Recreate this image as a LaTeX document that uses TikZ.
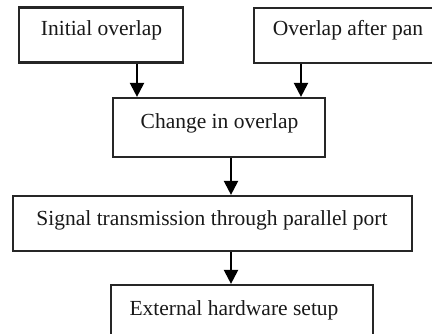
\documentclass[tikz,border=0pt]{standalone}
\usepackage{fontspec}
\setmainfont{Liberation Serif}
\usetikzlibrary{arrows.meta}
\begin{document}
\begin{tikzpicture}[x=1pt,y=-1pt,
  box/.style={draw=black!85, line width=2.2pt, inner sep=0pt},
  lbl/.style={anchor=base, inner sep=0pt, font=\fontsize{21.5}{25}\selectfont, text=black!90},
  arr/.style={draw=black, line width=2.2pt, -{Triangle[width=14pt,length=14pt]}}]
\useasboundingbox (0,0) rectangle (432,333);
\clip (0,0) rectangle (432,333);
\node[box, minimum width=164pt, minimum height=55pt] (b1) at (101,35) {};
\node[box, minimum width=188pt, minimum height=55pt] (b2) at (348,35.5) {};
\node[box, minimum width=212pt, minimum height=59pt] (b3) at (219,127.5) {};
\node[box, minimum width=399pt, minimum height=55pt] (b4) at (212.5,223.5) {};
\node[box, minimum width=262pt, minimum height=70pt] (b5) at (242,320) {};
\node[lbl] (t1) at (101.5,35) {Initial overlap};
\node[lbl] (t2) at (348,35) {Overlap after pan};
\node[lbl] (t3) at (219.5,128) {Change in overlap};
\node[lbl] (t4) at (212,225) {Signal transmission through parallel port};
\node[lbl] (t5) at (234,315) {External hardware setup};
\draw[arr] (b1.south -| 137,0) -- (b3.north -| 137,0);
\draw[arr] (b2.south -| 301,0) -- (b3.north -| 301,0);
\draw[arr] (b3.south -| 231,0) -- (b4.north -| 231,0);
\draw[arr] (b4.south -| 231,0) -- (b5.north -| 231,0);
\end{tikzpicture}
\end{document}
